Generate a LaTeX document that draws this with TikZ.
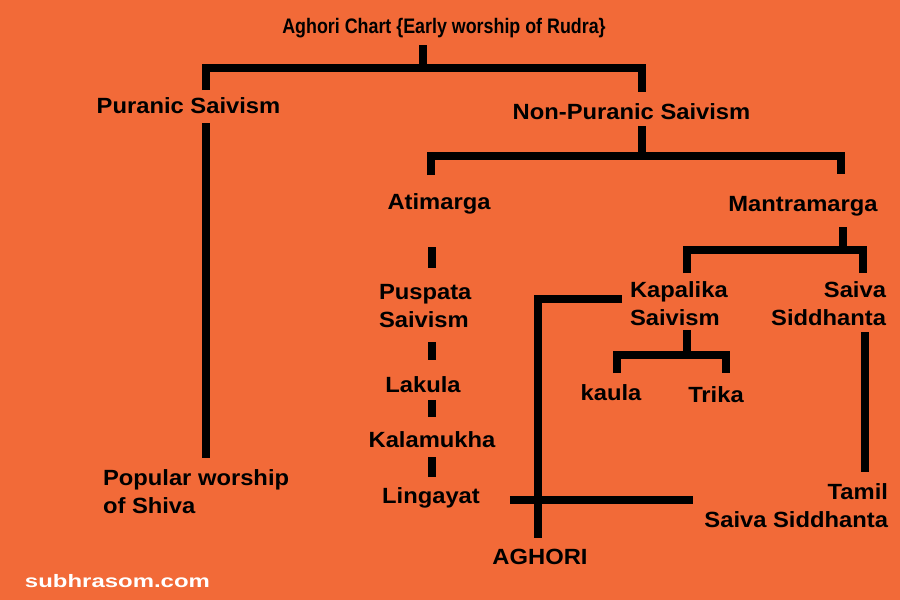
\documentclass[tikz,border=0pt]{standalone}
\usepackage{fontspec}
\newfontfamily\chartfont[FakeStretch=1.08]{Liberation Sans}
\newfontfamily\titlefont[FakeStretch=0.85]{Liberation Sans}
\newfontfamily\sitefont[FakeStretch=1.33]{Liberation Sans}
\definecolor{chartorange}{RGB}{242,106,56}
\tikzset{
  chartlabel/.style={inner sep=0pt, outer sep=0pt, anchor=base,
    font=\chartfont\bfseries\fontsize{11}{14}\selectfont,
    text height=8pt, text depth=0pt},
  twoline/.style={inner sep=0pt, outer sep=0pt,
    font=\chartfont\bfseries\fontsize{11}{14}\selectfont},
  bar/.style={line width=4pt, line cap=butt, line join=miter},
}
\begin{document}
\begin{tikzpicture}[x=0.5pt,y=-0.5pt]
    \fill[chartorange] (0,0) rectangle (900,600);
    \useasboundingbox (0,0) rectangle (900,600);

    \node[chartlabel, font=\titlefont\bfseries\fontsize{10.5}{12}\selectfont] (title) at (444,33) {Aghori Chart \{Early worship of Rudra\}};
    \node[chartlabel] (puranic) at (188.5,113) {Puranic Saivism};
    \node[chartlabel] (nonpuranic) at (631.5,119) {Non-Puranic Saivism};
    \node[twoline, anchor=north west, align=left] (popular) at (103,470) {Popular worship\\of Shiva};
    \node[chartlabel] (atimarga) at (439,209) {Atimarga};
    \node[chartlabel] (mantramarga) at (803,211) {Mantramarga};
    \node[twoline, anchor=north west, align=left] (puspata) at (379,284) {Puspata\\Saivism};
    \node[chartlabel] (lakula) at (423,392) {Lakula};
    \node[chartlabel] (kalamukha) at (432,447) {Kalamukha};
    \node[chartlabel] (lingayat) at (431,503) {Lingayat};
    \node[twoline, anchor=north west, align=left] (kapalika) at (630,282) {Kapalika\\Saivism};
    \node[twoline, anchor=north east, align=right] (siddhanta) at (886,282) {Saiva\\Siddhanta};
    \node[chartlabel] (kaula) at (611,400) {kaula};
    \node[chartlabel] (trika) at (716,402) {Trika};
    \node[twoline, anchor=north east, align=right] (tamil) at (888,484) {Tamil\\Saiva Siddhanta};
    \node[chartlabel] (aghori) at (540,564) {AGHORI};
    \node[chartlabel, anchor=base west, text=white, font=\sitefont\bfseries\fontsize{9}{10}\selectfont] (site) at (25,587) {subhrasom.com};

    \coordinate (b1l) at (206,67.5);
    \coordinate (b1m) at (423,67.5);
    \coordinate (b1r) at (642,67.5);
    \coordinate (b2l) at (431,156);
    \coordinate (b2m) at (642,156);
    \coordinate (b2r) at (841,156);
    \coordinate (b3l) at (687,250);
    \coordinate (b3m) at (843,250);
    \coordinate (b3r) at (863,250);
    \coordinate (b4l) at (617,355);
    \coordinate (b4m) at (687,355);
    \coordinate (b4r) at (726,355);
    \coordinate (chain) at (432,0);
    \coordinate (sid) at (865,0);
    \coordinate (ag) at (537.5,299);
    \coordinate (lx) at (600,500);

    % Rudra
    \draw[bar, shorten <=6pt] (title.south -| b1m) -- (b1m);
    \draw[bar, shorten <=3.5pt, shorten >=5.5pt] (puranic.north -| b1l) -- (b1l) -- (b1r) -- (nonpuranic.north -| b1r);
    \draw[bar, shorten <=5pt, shorten >=6pt] (puranic.south -| b1l) -- (popular.north -| b1l);

    % Non-Puranic
    \draw[bar, shorten <=3.5pt] (nonpuranic.south -| b2m) -- (b2m);
    \draw[bar, shorten <=9pt, shorten >=10.5pt] (atimarga.north -| b2l) -- (b2l) -- (b2r) -- (mantramarga.north -| b2r);

    % Atimarga
    \draw[bar, shorten <=19pt, shorten >=8pt] (atimarga.south -| chain) -- (puspata.north -| chain);
    \draw[bar, shorten <=7.5pt, shorten >=8pt] (puspata.south -| chain) -- (lakula.north -| chain);
    \draw[bar, shorten <=4pt, shorten >=7pt] (lakula.south -| chain) -- (kalamukha.north -| chain);
    \draw[bar, shorten <=5pt, shorten >=5pt] (kalamukha.south -| chain) -- (lingayat.north -| chain);

    % Mantramarga
    \draw[bar, shorten <=8pt] (mantramarga.south -| b3m) -- (b3m);
    \draw[bar, shorten <=4.5pt, shorten >=4.5pt] (kapalika.north -| b3l) -- (b3l) -- (b3r) -- (siddhanta.north -| b3r);

    % Kapalika
    \draw[bar, shorten <=2pt] (kapalika.south -| b4m) -- (b4m);
    \draw[bar, shorten <=5.5pt, shorten >=6.5pt] (kaula.north -| b4l) -- (b4l) -- (b4r) -- (trika.north -| b4r);

    % Saiva Siddhanta
    \draw[bar, shorten <=3pt, shorten >=6pt] (siddhanta.south -| sid) -- (tamil.north -| sid);

    % Aghori
    \draw[bar, shorten <=4pt, shorten >=5pt] (kapalika.west |- ag) -- (ag) -- (aghori.north -| ag);
    \draw[bar, shorten <=15pt, shorten >=5.5pt] (lingayat.east |- lx) -- (tamil.west |- lx);
\end{tikzpicture}
\end{document}
